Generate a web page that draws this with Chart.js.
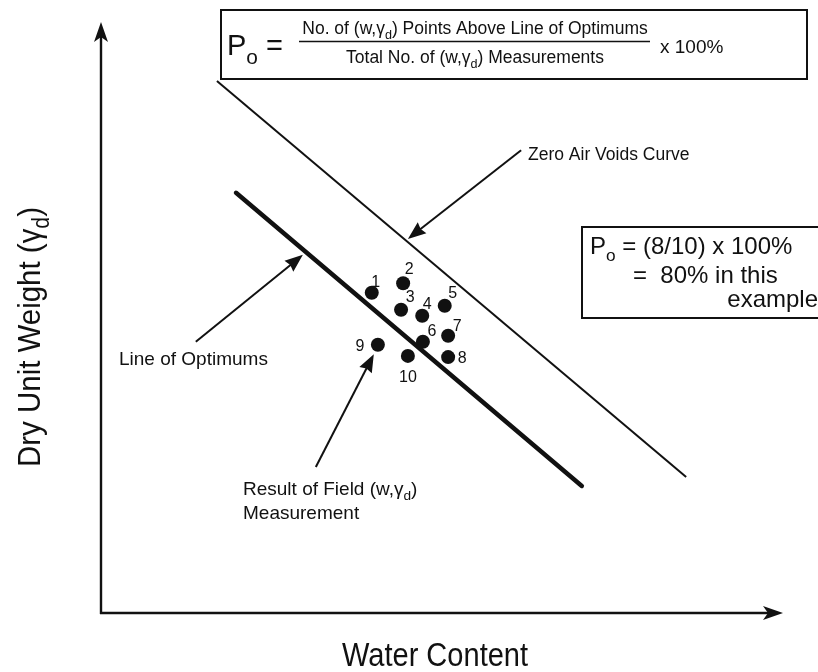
<!DOCTYPE html>
<html><head><meta charset="utf-8">
<script src="https://cdn.jsdelivr.net/npm/chart.js@4.4.1/dist/chart.umd.min.js"></script>
<style>html,body{margin:0;padding:0;background:#fff;} canvas{display:block;}</style>
</head><body>
<canvas id="c" width="818" height="672"></canvas>
<script>
// ---- data ----
const pointLabels = ['1','2','3','4','5','6','7','8','9','10'];
const waterContent = [39.7, 44.3, 44.0, 47.1, 50.4, 47.2, 50.9, 50.9, 40.6, 45.0];
const dryUnitWeight = [54.2, 55.8, 51.3, 50.3, 52.0, 45.9, 46.9, 43.3, 45.4, 43.5];
const optimumLineW = [19.8, 70.5];
const optimumLineG = [71.1, 21.5];
const zeroAirVoidsW = [17.0, 85.8];
const zeroAirVoidsG = [90.0, 23.0];
const xAxisTitle = 'Water Content';
const annotationTexts = ['Zero Air Voids Curve', 'Line of Optimums', 'Result of Field', 'Measurement'];

// ---- styles / layout ----
const labelDx = [4, 6, 9, 5, 8, 9, 9, 14, -18, 0];
const labelDy = [-10, -14, -12, -11, -12, -10, -9, 1, 2, 22];
const FONT = '"Liberation Sans", Arial, sans-serif';

function toXY(w, g) { return w.map((v, i) => ({x: v, y: g[i]})); }

function richWidth(ctx, segs, size, family) {
  let w = 0;
  segs.forEach(s => {
    const fs = s.sub ? size * 0.72 : size;
    ctx.font = fs + 'px ' + family;
    w += ctx.measureText(s.t).width;
  });
  return w;
}
function drawRich(ctx, segs, x, y, size, family, align) {
  const w = richWidth(ctx, segs, size, family);
  let cx = align === 'center' ? x - w / 2 : (align === 'right' ? x - w : x);
  ctx.textAlign = 'left';
  ctx.textBaseline = 'alphabetic';
  segs.forEach(s => {
    const fs = s.sub ? size * 0.72 : size;
    ctx.font = fs + 'px ' + family;
    ctx.fillText(s.t, cx, y + (s.sub ? size * (s.drop || 0.28) : 0));
    cx += ctx.measureText(s.t).width;
  });
}
function arrowHead(ctx, fx, fy, tx, ty, len, hw, notch) {
  const a = Math.atan2(ty - fy, tx - fx);
  const c = Math.cos(a), s = Math.sin(a);
  const bx = tx - c * len, by = ty - s * len;
  ctx.beginPath();
  ctx.moveTo(tx, ty);
  ctx.lineTo(bx - s * hw, by + c * hw);
  ctx.lineTo(tx - c * len * (1 - notch), ty - s * len * (1 - notch));
  ctx.lineTo(bx + s * hw, by - c * hw);
  ctx.closePath();
  ctx.fill();
}
function arrow(ctx, fx, fy, tx, ty, lw, len, hw, notch) {
  const a = Math.atan2(ty - fy, tx - fx);
  ctx.lineWidth = lw;
  ctx.beginPath();
  ctx.moveTo(fx, fy);
  ctx.lineTo(tx - Math.cos(a) * len * 0.6, ty - Math.sin(a) * len * 0.6);
  ctx.stroke();
  arrowHead(ctx, fx, fy, tx, ty, len, hw, notch);
}

const decor = {
  id: 'decor',
  beforeDatasetsDraw(chart) {
    const ctx = chart.ctx, a = chart.chartArea;
    ctx.save();
    ctx.strokeStyle = '#111'; ctx.fillStyle = '#111';
    arrow(ctx, a.left, a.bottom + 1, a.left, a.top, 2.4, 20, 7, 0.25);
    arrow(ctx, a.left - 1, a.bottom, a.right, a.bottom, 2.4, 20, 7, 0.25);
    ctx.restore();
  },
  afterDatasetsDraw(chart) {
    const ctx = chart.ctx;
    const X = v => chart.scales.x.getPixelForValue(v);
    const Y = v => chart.scales.y.getPixelForValue(v);
    ctx.save();
    ctx.fillStyle = '#111'; ctx.strokeStyle = '#111';
    // point labels
    ctx.font = '16px ' + FONT;
    ctx.textAlign = 'center'; ctx.textBaseline = 'middle';
    pointLabels.forEach((t, i) => {
      ctx.fillText(t, X(waterContent[i]) + labelDx[i], Y(dryUnitWeight[i]) + labelDy[i]);
    });
    // annotation arrows
    arrow(ctx, X(61.6), Y(78.3), X(45.0), Y(63.3), 2, 18, 7, 0.1);
    arrow(ctx, X(13.9), Y(45.9), X(29.6), Y(60.6), 2, 18, 7, 0.1);
    arrow(ctx, X(31.5), Y(24.7), X(40.0), Y(43.8), 2, 18, 7, 0.1);
    // annotation texts
    ctx.textAlign = 'left'; ctx.textBaseline = 'alphabetic';
    ctx.font = '17.5px ' + FONT;
    ctx.fillText(annotationTexts[0], 528, 160);
    ctx.font = '19px ' + FONT;
    ctx.fillText(annotationTexts[1], 119, 365);
    drawRich(ctx, [{t: annotationTexts[2] + ' (w,'}, {t: 'γ'}, {t: 'd', sub: true}, {t: ')'}], 243, 495, 19, FONT, 'left');
    ctx.font = '19px ' + FONT;
    ctx.fillText(annotationTexts[3], 243, 519);

    // top formula box
    ctx.lineWidth = 2;
    ctx.strokeRect(221, 10, 586, 69);
    drawRich(ctx, [{t: 'P'}, {t: 'o', sub: true, drop: 0.3}, {t: ' ='}], 227, 55, 29, FONT, 'left');
    drawRich(ctx, [{t: 'No. of (w,γ'}, {t: 'd', sub: true}, {t: ') Points Above Line of Optimums'}], 475, 34, 17.5, FONT, 'center');
    ctx.lineWidth = 1.5;
    ctx.beginPath(); ctx.moveTo(299, 41.5); ctx.lineTo(650, 41.5); ctx.stroke();
    drawRich(ctx, [{t: 'Total No. of (w,γ'}, {t: 'd', sub: true}, {t: ') Measurements'}], 475, 63, 17.5, FONT, 'center');
    ctx.font = '19px ' + FONT;
    ctx.fillText('x 100%', 660, 53);

    // right example box
    ctx.lineWidth = 2;
    ctx.fillStyle = '#fff';
    ctx.fillRect(582, 227, 240, 91);
    ctx.strokeRect(582, 227, 240, 91);
    ctx.fillStyle = '#111';
    drawRich(ctx, [{t: 'P'}, {t: 'o', sub: true, drop: 0.3}, {t: ' = (8/10) x 100%'}], 590, 254, 24, FONT, 'left');
    ctx.font = '24px ' + FONT;
    ctx.fillText('=  80% in this', 633, 283);
    ctx.textAlign = 'right';
    ctx.fillText('example', 818, 307);

    // axis titles
    ctx.save();
    ctx.translate(435, 666);
    ctx.scale(0.88, 1);
    ctx.textAlign = 'center';
    ctx.font = '33px ' + FONT;
    ctx.fillText(xAxisTitle, 0, 0);
    ctx.restore();
    ctx.save();
    ctx.translate(40, 337);
    ctx.rotate(-Math.PI / 2);
    ctx.scale(0.92, 1);
    drawRich(ctx, [{t: 'Dry Unit Weight ('}, {t: 'γ'}, {t: 'd', sub: true}, {t: ')'}], 0, 0, 32, FONT, 'center');
    ctx.restore();
    ctx.restore();
  }
};

new Chart(document.getElementById('c'), {
  type: 'scatter',
  data: {
    datasets: [
      { label: 'Line of Optimums', data: toXY(optimumLineW, optimumLineG), showLine: true,
        borderColor: '#111', borderWidth: 4.5, pointRadius: 0, borderCapStyle: 'round' },
      { label: 'Zero Air Voids Curve', data: toXY(zeroAirVoidsW, zeroAirVoidsG), showLine: true,
        borderColor: '#111', borderWidth: 2, pointRadius: 0 },
      { label: 'Field (w, γd) measurements', data: toXY(waterContent, dryUnitWeight),
        backgroundColor: '#111', borderColor: '#111', pointRadius: 7, borderWidth: 0 }
    ]
  },
  options: {
    responsive: false, animation: false,
    layout: { padding: { left: 101, right: 35, top: 22, bottom: 59 } },
    scales: {
      x: { type: 'linear', min: 0, max: 100, display: false },
      y: { type: 'linear', min: 0, max: 100, display: false }
    },
    plugins: { legend: { display: false }, tooltip: { enabled: false } }
  },
  plugins: [decor]
});
</script>
</body></html>
